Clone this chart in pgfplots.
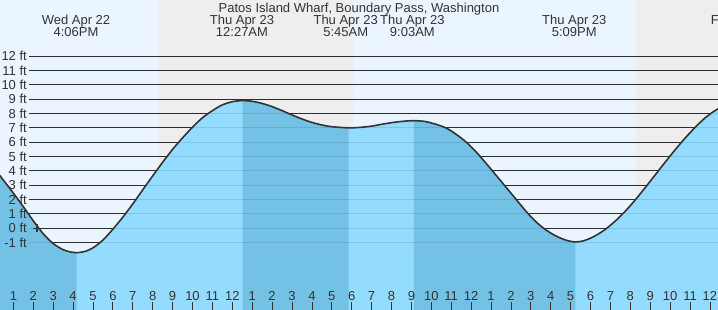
\documentclass[border=0pt]{standalone}
\usepackage{fontspec}
\setmainfont{Liberation Sans}
\usepackage{pgfplots}
\usepackage{pgfplotstable}
\pgfplotsset{compat=1.18}
\definecolor{bglight}{RGB}{235,245,255}
\definecolor{bggray}{RGB}{238,238,238}
\definecolor{wlight}{RGB}{148,220,255}
\definecolor{wdark}{RGB}{115,194,230}
\definecolor{ink}{RGB}{51,51,51}

% falling (dark) and rising (light) stretches of the tide curve, hours from midnight Apr 23
\pgfplotstableread{
h ft
-12 4.25
-11.5 3.35
-11 2.45
-10.5 1.50
-10 0.52
-9.5 -0.38
-9 -1.06
-8.5 -1.49
-8.1 -1.66
-7.82 -1.70
}\segA
\pgfplotstableread{
h ft
-12 -7
-11 -7
}\dummy
\pgfplotstableread{
h ft
0.52 8.90
1.0 8.85
1.5 8.70
2.0 8.48
2.5 8.20
3.0 7.90
3.5 7.62
4.0 7.38
4.5 7.20
5.0 7.08
5.84 7.00
}\segC
\pgfplotstableread{
h ft
9.12 7.50
9.7 7.44
10.3 7.22
10.8 6.95
11.3 6.50
11.8 5.95
12.3 5.25
12.8 4.45
13.3 3.62
13.8 2.79
14.3 1.95
14.8 1.12
15.3 0.40
15.8 -0.15
16.3 -0.56
16.8 -0.84
17.24 -0.95
}\segE
\pgfplotstableread{
h ft
-12 4.25
-11.5 3.35
-11 2.45
-10.5 1.50
-10 0.52
-9.5 -0.38
-9 -1.06
-8.5 -1.49
-8.1 -1.66
-7.82 -1.70
-7.4 -1.61
-7.0 -1.36
-6.5 -0.82
-6.0 -0.06
-5.5 0.78
-5.0 1.70
-4.5 2.68
-4.0 3.65
-3.5 4.60
-3.0 5.50
-2.5 6.30
-2.0 7.05
-1.5 7.70
-1.0 8.20
-0.5 8.60
0.0 8.82
0.52 8.90
1.0 8.85
1.5 8.70
2.0 8.48
2.5 8.20
3.0 7.90
3.5 7.62
4.0 7.38
4.5 7.20
5.0 7.08
5.84 7.00
6.4 7.03
7.0 7.12
7.6 7.27
8.2 7.40
8.7 7.47
9.12 7.50
9.7 7.44
10.3 7.22
10.8 6.95
11.3 6.50
11.8 5.95
12.3 5.25
12.8 4.45
13.3 3.62
13.8 2.79
14.3 1.95
14.8 1.12
15.3 0.40
15.8 -0.15
16.3 -0.56
16.8 -0.84
17.24 -0.95
17.7 -0.85
18.2 -0.55
18.7 -0.12
19.2 0.45
19.7 1.12
20.2 1.90
20.7 2.75
21.2 3.63
21.7 4.52
22.2 5.38
22.7 6.20
23.2 6.95
23.7 7.62
24.2 8.15
24.7 8.55
}\tide

\tikzset{hdr/.style={anchor=base, text=ink}}

\begin{document}
\begin{tikzpicture}[font=\fontsize{13bp}{15bp}\selectfont]
\useasboundingbox (0,0) rectangle (718bp,310bp);
\clip (0,0) rectangle (718bp,310bp);
\begin{axis}[
  at={(0,0)}, anchor=south west,
  width=718bp, height=310bp, scale only axis,
  xmin=-11.673, xmax=24.407, ymin=-5.693, ymax=15.909,
  axis line style={draw=none},
  axis background/.style={fill=bglight},
  axis on top,
  font=\fontsize{13bp}{15bp}\selectfont,
  xtick={-11,...,24},
  xticklabels={1,2,3,4,5,6,7,8,9,10,11,12,1,2,3,4,5,6,7,8,9,10,11,12,1,2,3,4,5,6,7,8,9,10,11,12},
  xtick pos=lower,
  ytick pos=left,
  tick align=inside,
  major tick length=8bp,
  x tick style={ink, line width=0.8bp},
  extra x ticks={0,24},
  extra x tick labels={},
  extra x tick style={major tick style={line width=2.6bp, black}},
  xticklabel style={anchor=base, yshift=10bp, text=ink, inner sep=0pt},
  ytick={-1,...,12},
  yticklabels={-1 ft,0 ft,1 ft,2 ft,3 ft,4 ft,5 ft,6 ft,7 ft,8 ft,9 ft,10 ft,11 ft,12 ft},
  y tick style={draw=none},
  yticklabel style={anchor=east, inner sep=0pt, xshift=27bp, text=ink},
]
% night bands
\addplot[fill=bggray, draw=none] coordinates {(-3.734,-7) (-3.734,17) (6.07,17) (6.07,-7)} -- cycle;
\addplot[fill=bggray, draw=none] coordinates {(20.29,-7) (20.29,17) (26,17) (26,-7)} -- cycle;
% grid lines
\pgfplotsinvokeforeach{-1,...,12}{\addplot[ink, line width=1bp] coordinates {(-10.216,#1) (25,#1)};}
% water: whole area light (rising), falling stretches dark
\addplot[fill=wlight, draw=none, smooth] table {\tide} -- (axis cs:24.7,-7) -- (axis cs:-12,-7) -- cycle;
\addplot[fill=wdark, draw=none, smooth] table {\segA} -- (axis cs:-7.82,-7) -- (axis cs:-12,-7) -- cycle;
\addplot[fill=wdark, draw=none, smooth] table {\segC} -- (axis cs:5.84,-7) -- (axis cs:0.52,-7) -- cycle;
\addplot[fill=wdark, draw=none, smooth] table {\segE} -- (axis cs:17.24,-7) -- (axis cs:9.12,-7) -- cycle;
% faint lines through water
\pgfplotsinvokeforeach{-1,...,12}{\addplot[black, opacity=0.1, line width=1bp] coordinates {(-10.216,#1) (25,#1)};}
% tide curve
\addplot[ink, line width=1.6bp, smooth] table {\tide};
% now marker
\addplot[ink, only marks, mark=+, mark size=4bp, mark options={line width=1.2bp}] coordinates {(-9.81,0)};
% header
\node[hdr] at (axis cs:6.367,15.07) {Patos Island Wharf, Boundary Pass, Washington};
\node[hdr] at (axis cs:-7.854,14.22) {Wed Apr 22};
\node[hdr] at (axis cs:-7.854,13.36) {4:06PM};
\node[hdr] at (axis cs:0.487,14.22) {Thu Apr 23};
\node[hdr] at (axis cs:0.487,13.36) {12:27AM};
\node[hdr] at (axis cs:5.70,14.22) {Thu Apr 23};
\node[hdr] at (axis cs:5.70,13.36) {5:45AM};
\node[hdr] at (axis cs:9.05,14.22) {Thu Apr 23};
\node[hdr] at (axis cs:9.05,13.36) {9:03AM};
\node[hdr] at (axis cs:17.186,14.22) {Thu Apr 23};
\node[hdr] at (axis cs:17.186,13.36) {5:09PM};
\node[hdr] at (axis cs:25.48,14.22) {Fri Apr 24};
\end{axis}
\end{tikzpicture}
\end{document}
